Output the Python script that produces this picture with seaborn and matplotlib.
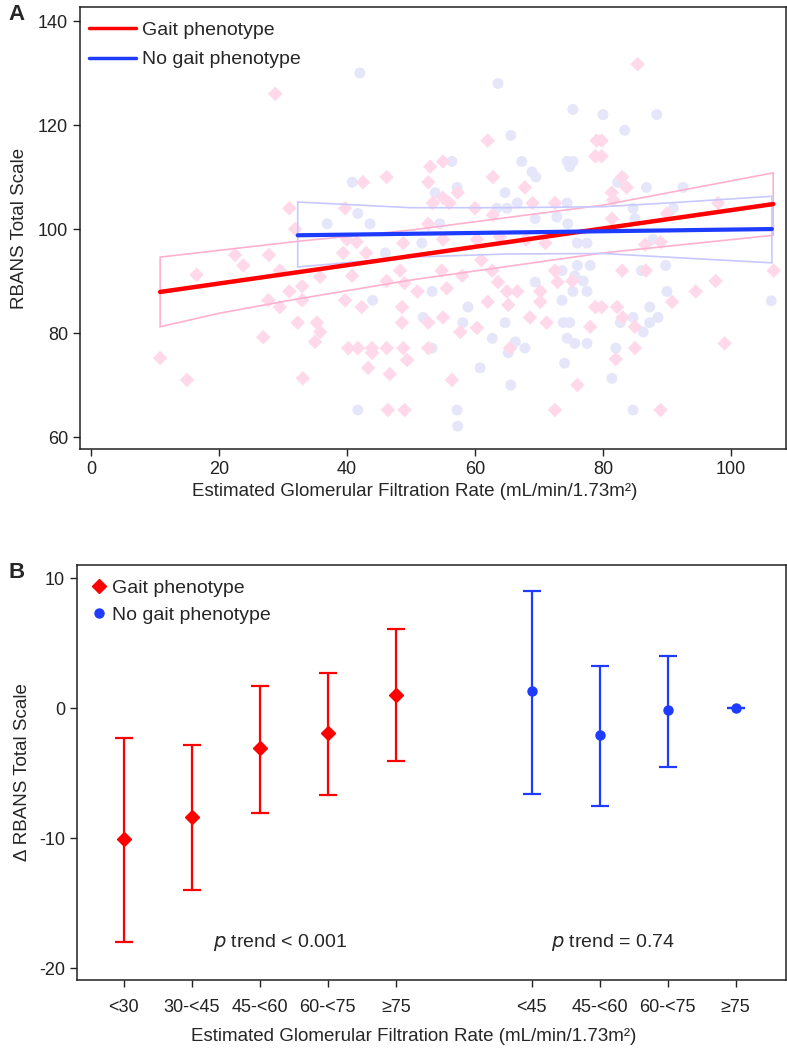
import seaborn as sns
import matplotlib.pyplot as plt
import pandas as pd
import numpy as np

# ---- panel A: individual participants ----
gait_egfr = [10.8, 15, 16.5, 22.5, 23.8, 27.8, 26.9, 28.8, 29.5, 31, 27.7, 29.5, 33, 33, 31, 31.9,
             32.3, 35.3, 35.8, 35, 35.8, 33.1, 39.7, 40, 41.5, 39.4, 43, 42.5, 46.2, 48.8, 40.8, 39.7,
             42.3, 46.2, 48.6, 48.6, 48.3, 49, 40.2, 41.7, 43.9, 43.9, 46.2, 48.8, 49.4, 43.3, 46.7,
             46.4, 49, 53, 55, 52.7, 62.8, 67.8, 62, 79, 78.8, 55, 57.3, 53.4, 56, 60, 69, 72.5, 52.7,
             62.8, 55, 60.3, 63.9, 68, 71, 51, 55.6, 54.8, 58, 61, 62.7, 63.6, 62, 65, 66.6, 65.2, 55,
             52.7, 57.7, 60.3, 68.6, 71.2, 70.2, 70.2, 72.5, 72.9, 75.2, 78, 78.8, 52.7, 65.5, 56.4,
             76, 72.5, 85.4, 79.8, 79.8, 83, 83.7, 81.4, 81.6, 98, 81.4, 90, 86.6, 89, 83, 86.7, 97.6,
             94.5, 90.8, 106.7, 79.8, 82.2, 83.1, 85, 85, 82, 99, 89]
gait_rbans = [75.2, 71, 91.2, 95, 93, 95, 79.2, 126, 92, 88, 86.3, 85, 89, 86.3, 104, 100,
              82, 82, 80.2, 78.3, 90.8, 71.3, 104, 98, 97.5, 95.4, 95.4, 109, 110, 97.3, 91, 86.3,
              85, 90, 85, 82, 92, 89.6, 77.1, 77.1, 77.1, 76.2, 77.1, 77.1, 74.8, 73.3, 72.1,
              65.2, 65.2, 112, 113, 109, 110, 108, 117, 117, 114, 106, 107, 105, 105, 104, 105, 105, 101,
              102.7, 98, 98, 98.5, 98, 97.3, 88, 88.6, 92, 91, 94, 92, 89.8, 86, 88, 88, 85.4, 83,
              82, 80.2, 81, 83, 82, 88, 86, 92, 89.8, 90, 81.2, 85, 77.1, 77.1, 71,
              70, 65.2, 131.7, 117, 114, 110, 108, 107, 105.6, 105, 102, 103, 97, 97.5, 92, 92, 90,
              88, 86, 92, 85, 85, 83, 81.2, 77.1, 75, 78, 65.2]
nogait_egfr = [42, 40.8, 41.7, 36.9, 43.6, 46, 63.6, 75.3, 65.6, 56.4, 67.3, 74.4, 75.3, 74.8, 68.9,
               69.5, 57.2, 53.8, 64.7, 63.4, 65, 66.6, 74.4, 54.5, 69.4, 72.8, 74.5, 51.7, 76, 77.5,
               80, 88.4, 83.4, 82.3, 86.8, 92.5, 84.7, 91, 85, 87.8, 44, 41.7, 53.3, 58.9, 51.9, 58.1,
               62.7, 64.7, 69.4, 73.6, 73.8, 74.8, 74.4, 75.6, 77.5, 53.3, 66.3, 67.8, 65.2, 60.8, 74,
               65.6, 57.2, 57.3, 76, 78, 73.6, 75.6, 76.9, 75.3, 77.5, 86, 89.8, 90, 106.3, 84.7, 87.3,
               88.6, 87.3, 82.7, 86.3, 82, 81.4, 84.7]
nogait_rbans = [130, 109, 103, 101, 101, 95.4, 128, 123, 118, 113, 113, 113, 113, 112, 111,
                110, 108, 107, 107, 104, 104, 105, 105, 101, 102, 102.3, 101, 97.3, 97.3, 97.3,
                122, 122, 119, 109, 108, 108, 104, 104, 102, 98, 86.3, 65.2, 88, 85, 83, 82,
                79, 82, 89.8, 86.3, 82, 82, 79, 78, 78, 77.1, 78.3, 77.1, 76.2, 73.3, 74.2,
                70, 65.2, 62.1, 93, 93, 92, 91, 90, 88, 88, 92, 93, 88, 86.2, 83, 85,
                83, 82, 82, 80.2, 77.1, 71.3, 65.2]

# fitted lines with 95% confidence limits
gait_fit_x = [10.8, 106.6]
gait_fit_y = [87.9, 104.8]
gait_ci_x = [10.8, 20, 32, 50, 80, 106.6]
gait_ci_hi = [94.6, 95.9, 97.6, 99.8, 104.6, 110.8]
gait_ci_lo = [81.2, 83.8, 86.5, 90.2, 95.4, 98.8]

nogait_fit_x = [32.3, 106.4]
nogait_fit_y = [98.8, 100.0]
nogait_ci_x = [32.3, 50, 65, 80, 90, 106.4]
nogait_ci_hi = [105.2, 104.1, 104.1, 104.3, 105.0, 106.3]
nogait_ci_lo = [92.7, 94.6, 95.2, 95.3, 94.6, 93.5]

# ---- panel B: adjusted differences by eGFR category ----
gait_cats = ['<30', '30-<45', '45-<60', '60-<75', '≥75']
gait_est = [-10.1, -8.4, -3.1, -1.9, 1.0]
gait_lo = [-18.0, -14.0, -8.1, -6.7, -4.1]
gait_hi = [-2.3, -2.85, 1.7, 2.7, 6.1]

nogait_cats = ['<45', '45-<60', '60-<75', '≥75']
nogait_est = [1.3, -2.1, -0.15, 0.0]
nogait_lo = [-6.6, -7.5, -4.5, 0.0]
nogait_hi = [9.0, 3.2, 4.0, 0.0]

RED = '#ff0000'
BLUE = '#1e3cff'

sns.set_theme(style='ticks')
plt.rcParams['font.family'] = ['Liberation Sans', 'DejaVu Sans']
plt.rcParams['axes.unicode_minus'] = False
plt.rcParams['axes.linewidth'] = 1.1
plt.rcParams['xtick.major.size'] = 5
plt.rcParams['ytick.major.size'] = 5
plt.rcParams['xtick.major.width'] = 1.0
plt.rcParams['ytick.major.width'] = 1.0
plt.rcParams['xtick.color'] = '#222222'
plt.rcParams['ytick.color'] = '#222222'

fig = plt.figure(figsize=(7.87, 10.53), dpi=100)
axA = fig.add_axes([80 / 787, 1 - 449 / 1053, 706 / 787, 442 / 1053])
axB = fig.add_axes([77 / 787, 1 - 980 / 1053, 709 / 787, 415 / 1053])

# panel A
dfg = pd.DataFrame({'egfr': gait_egfr, 'rbans': gait_rbans})
dfn = pd.DataFrame({'egfr': nogait_egfr, 'rbans': nogait_rbans})
sns.scatterplot(data=dfn, x='egfr', y='rbans', marker='o', s=62, color='#e6e6fa',
                edgecolor='none', linewidth=0, ax=axA, zorder=1)
sns.scatterplot(data=dfg, x='egfr', y='rbans', marker='D', s=55, color='#ffd9ea',
                edgecolor='none', linewidth=0, ax=axA, zorder=1)

axA.fill(np.r_[gait_ci_x, gait_ci_x[::-1]], np.r_[gait_ci_hi, gait_ci_lo[::-1]],
         fill=False, edgecolor='#ffb0cf', lw=1.2, zorder=2)
axA.fill(np.r_[nogait_ci_x, nogait_ci_x[::-1]], np.r_[nogait_ci_hi, nogait_ci_lo[::-1]],
         fill=False, edgecolor='#c8c8ff', lw=1.2, zorder=2)
sns.lineplot(x=gait_fit_x, y=gait_fit_y, color=RED, lw=3.2, ax=axA, label='Gait phenotype', zorder=3)
sns.lineplot(x=nogait_fit_x, y=nogait_fit_y, color=BLUE, lw=3.0, ax=axA, label='No gait phenotype', zorder=3)

axA.set_xlim(-1.72, 108.6)
axA.set_ylim(57.7, 142.7)
axA.set_xticks([0, 20, 40, 60, 80, 100])
axA.set_yticks([60, 80, 100, 120, 140])
axA.tick_params(labelsize=13)
axA.set_xlabel('Estimated Glomerular Filtration Rate (mL/min/1.73m²)', fontsize=13.5, labelpad=4)
axA.xaxis.label.set_x(0.4745)
axA.set_ylabel('RBANS Total Scale', fontsize=13.5, labelpad=7)
leg = axA.legend(loc='upper left', frameon=False, fontsize=14, handlelength=2.4,
                 handletextpad=0.35, borderaxespad=0.35, labelspacing=0.6,
                 bbox_to_anchor=(-0.008, 1.0))
for ln in leg.get_lines():
    ln.set_linewidth(2.5)

# panel B
gait_pos = np.arange(len(gait_cats))
nogait_pos = np.arange(len(nogait_cats)) + len(gait_cats) + 1
g_est = np.array(gait_est)
n_est = np.array(nogait_est)
axB.errorbar(gait_pos, g_est, yerr=[g_est - np.array(gait_lo), np.array(gait_hi) - g_est],
             fmt='D', color=RED, ms=7.2, elinewidth=1.6, capsize=6.5, capthick=1.6,
             label='Gait phenotype', zorder=3)
axB.errorbar(nogait_pos, n_est, yerr=[n_est - np.array(nogait_lo), np.array(nogait_hi) - n_est],
             fmt='o', color=BLUE, ms=6.5, elinewidth=1.6, capsize=6.5, capthick=1.6,
             label='No gait phenotype', zorder=3)

axB.text(2.3, -18.0, r'$\it{p}$ trend < 0.001', fontsize=14, ha='center', va='center')
axB.text(7.2, -18.0, r'$\it{p}$ trend = 0.74', fontsize=14, ha='center', va='center')

axB.set_xlim(-0.69, 9.74)
axB.set_ylim(-20.92, 11.0)
axB.set_xticks(np.r_[gait_pos, nogait_pos])
axB.set_xticklabels(gait_cats + nogait_cats)
axB.set_yticks([10, 0, -10, -20])
axB.tick_params(labelsize=13)
axB.tick_params(axis='x', pad=9)
axB.set_xlabel('Estimated Glomerular Filtration Rate (mL/min/1.73m²)', fontsize=13.5, labelpad=8)
axB.xaxis.label.set_x(0.475)
axB.set_ylabel('Δ RBANS Total Scale', fontsize=13.5, labelpad=6)
hs, ls = axB.get_legend_handles_labels()
hs = [h[0] for h in hs]
axB.legend(hs, ls, loc='upper left', frameon=False, fontsize=14, handlelength=0.8,
           handletextpad=0.25, borderaxespad=0.35, labelspacing=0.45)

for ax in (axA, axB):
    for sp in ax.spines.values():
        sp.set_visible(True)
        sp.set_color('#222222')

fig.text(8 / 787, 1 - 15 / 1053, 'A', fontsize=16, fontweight='bold', va='center')
fig.text(8 / 787, 1 - 573 / 1053, 'B', fontsize=16, fontweight='bold', va='center')

fig.savefig('out.png', dpi=100)
